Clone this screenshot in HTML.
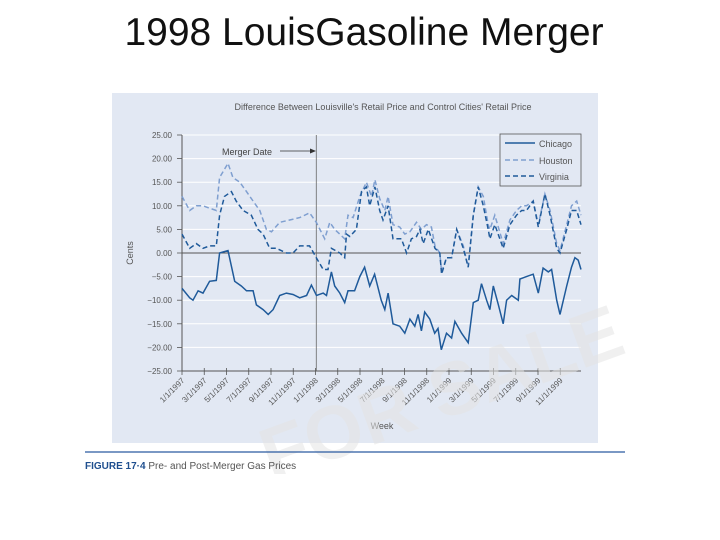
<!DOCTYPE html>
<html><head><meta charset="utf-8"><style>
body{margin:0;width:720px;height:540px;background:#fff;overflow:hidden;font-family:"Liberation Sans",sans-serif}
#title{position:absolute;left:0;width:728px;top:11px;text-align:center;font-size:39px;color:#111}
</style></head><body>
<div id="title">1998 LouisGasoline Merger</div>
<svg id="c" width="720" height="540" style="position:absolute;left:0;top:0">
<rect x="112" y="93" width="486" height="350" fill="#e2e8f3"/>
<text x="383" y="110" font-size="9" fill="#555" text-anchor="middle">Difference Between Louisville's Retail Price and Control Cities' Retail Price</text>
<g id="grid"></g><g id="lines"></g>
<text transform="translate(133,253) rotate(-90)" font-size="9" fill="#555" text-anchor="middle">Cents</text>
<text x="382" y="429" font-size="9" fill="#555" text-anchor="middle">Week</text>
<text x="222" y="155" font-size="9" fill="#444">Merger Date</text>
<line x1="280" y1="151" x2="312" y2="151" stroke="#333" stroke-width="0.8"/>
<polygon points="316,151 310,148.5 310,153.5" fill="#333"/>
<g>
<rect x="500" y="134" width="81" height="52" fill="#e2e8f3" stroke="#555" stroke-width="0.8"/>
<line x1="505" y1="143" x2="535" y2="143" stroke="#1f5a9a" stroke-width="1.6"/>
<text x="539" y="147" font-size="9" fill="#555">Chicago</text>
<line x1="505" y1="160" x2="535" y2="160" stroke="#7f9fd0" stroke-width="1.6" stroke-dasharray="5,3"/>
<text x="539" y="164" font-size="9" fill="#555">Houston</text>
<line x1="505" y1="176" x2="535" y2="176" stroke="#1f5a9a" stroke-width="1.6" stroke-dasharray="5,3"/>
<text x="539" y="180" font-size="9" fill="#555">Virginia</text>
</g>
<text transform="translate(272,482) rotate(-20)" font-size="75" font-weight="bold" fill="#e4e4e4" opacity="0.55">FOR SALE</text>
<rect x="0" y="474" width="720" height="66" fill="#fff"/>
<line x1="85" y1="452" x2="625" y2="452" stroke="#2a5aa0" stroke-width="1.2"/>
<text x="85" y="469" font-size="10" fill="#555"><tspan font-weight="bold" fill="#1f4f8f">FIGURE 17·4</tspan>  Pre- and Post-Merger Gas Prices</text>
</svg>
<script>
const yTicks=[25,20,15,10,5,0,-5,-10,-15,-20,-25];
const xLabels=["1/1/1997","3/1/1997","5/1/1997","7/1/1997","9/1/1997","11/1/1997","1/1/1998","3/1/1998","5/1/1998","7/1/1998","9/1/1998","11/1/1998","1/1/1999","3/1/1999","5/1/1999","7/1/1999","9/1/1999","11/1/1999"];
const mergerWeek=52.5;
const chicago=[[0,-7.5],[3,-9.5],[4.3,-10],[6.3,-8],[8.2,-8.5],[10.8,-6],[13.4,-5.8],[14.7,0],[18,0.5],[20.6,-6],[23.2,-7],[25.2,-8],[27.8,-8],[29.1,-11],[31.7,-12],[33.7,-13],[35.6,-12],[38.2,-9],[40.8,-8.5],[43.4,-8.8],[46,-9.5],[48.7,-9],[50.6,-6.8],[52.6,-9],[55.2,-8.5],[56.5,-9],[58.4,-4],[59.7,-7],[61.7,-8.5],[63.6,-10.5],[64.9,-8],[67.5,-8],[69.5,-5],[71.4,-3],[73.4,-7],[75.3,-4.5],[77.9,-10],[79.3,-12],[80.6,-8.5],[82.5,-15],[85.1,-15.5],[87.1,-17],[89.1,-14],[91,-15.5],[92.3,-13],[93.6,-16.5],[94.9,-12.5],[96.9,-14],[98.8,-17],[100.1,-16],[101.4,-20.5],[103.4,-17],[105.4,-18],[106.7,-14.5],[109.3,-17],[111.9,-19],[113.9,-10.5],[115.8,-10],[117.1,-6.5],[119.1,-10],[120.4,-12],[121.7,-7],[123.7,-11],[125.6,-15],[126.9,-10],[128.9,-9],[131.5,-10],[132.1,-5.5],[134.7,-5],[137.3,-4.5],[139.3,-8.5],[141.2,-3.2],[143.2,-4],[144.5,-3.5],[146.5,-10],[147.8,-13],[150.4,-7],[152.3,-3],[153.6,-1],[154.9,-1.5],[156,-3.5]];
const virginia=[[0,4],[3,1],[5.6,2],[8.2,1],[10.8,1.5],[13.4,1.5],[14.7,8],[16.6,12],[19.3,13],[21.2,11],[23.9,9],[27.1,8],[29.7,5],[31.7,4],[34.3,1],[36.9,1],[40.8,0],[43.4,0],[46,1.5],[49.9,1.5],[52.5,-1],[55.2,-3.5],[57.1,-3.5],[58.4,1],[61.7,0],[63.6,-1],[64.3,4],[65.6,3.5],[68.2,5],[70.2,13],[72.1,14],[73.4,10],[75.4,14],[77.3,9],[78.6,7],[80.6,10],[82.5,3],[85.8,3],[87.8,0],[89.7,3],[91.7,3.5],[93,5],[94.3,2],[96.3,5],[98.9,1],[100.8,0],[101.5,-4.5],[103.4,-1],[105.4,-1],[107.4,5],[110,1],[111.9,-3],[113.9,8],[115.8,14],[117.8,10],[119.7,5],[120.4,3],[122.3,6],[125.6,1],[128.2,6],[130.8,8],[132.8,9],[134.7,9],[137.3,11],[139.3,5.5],[141.9,12.5],[143.9,8],[146.5,1],[147.8,0],[150.4,5],[152.3,9],[154.3,9],[156,6]];
const houston=[[0,12],[3,9],[5.6,10],[8.2,10],[10.8,9.5],[13.4,9],[14.7,16],[18,19],[19.9,16],[22.6,15],[25.2,13],[27.8,11],[30.4,9],[33,5],[35,4.5],[38.2,6.5],[42.1,7],[46,7.5],[49.9,8.5],[52.5,6.5],[55.8,3],[57.8,6.5],[59.7,5],[63.6,3],[64.9,8],[66.9,7.5],[69.5,12],[72.1,15],[74.1,12],[75.4,15.5],[77.3,11.5],[79.3,9],[80.6,12],[82.5,6],[85.1,5.5],[87.1,4],[89.1,4.5],[91.7,6.5],[93.6,5],[95.6,6],[97.5,5.5],[98.9,1.5],[100.8,0],[101.5,-4],[103.4,-1],[105.4,-1],[107.4,5],[110,1.5],[111.9,-3],[113.9,8],[115.8,14],[117.8,12],[119.7,6],[120.4,5],[122.3,8],[125.6,2],[128.2,7],[130.8,9],[132.8,10],[134.7,10],[137.3,11],[139.3,6],[141.9,12.5],[143.9,9],[146.5,2],[147.8,0.5],[150.4,6],[152.3,10],[154.3,11],[156,8]];
const NS='http://www.w3.org/2000/svg';
const X=w=>182+w*(399/156), Y=v=>253-v*(236/50);
const grid=document.getElementById('grid'), lines=document.getElementById('lines');
function mk(tag,at,parent){const e=document.createElementNS(NS,tag);for(const k in at)e.setAttribute(k,at[k]);parent.appendChild(e);return e;}
yTicks.forEach(v=>{
  if(v!==0&&v!==-25){const g=mk('line',{x1:182,x2:581,y1:Y(v),y2:Y(v),stroke:'#fff','stroke-width':1},grid);
  
  }
  mk('line',{x1:177,x2:182,y1:Y(v),y2:Y(v),stroke:'#555','stroke-width':0.8},grid);
  const l=mk('text',{x:172,y:Y(v)+3,'font-size':8,fill:'#555','text-anchor':'end'},grid);
  l.textContent=v.toFixed(2).replace('-','−');
  
  
});
const z=mk('line',{x1:182,x2:581,y1:Y(0),y2:Y(0),stroke:'#555','stroke-width':1},grid);


mk('line',{x1:182,x2:581,y1:Y(-25),y2:Y(-25),stroke:'#555','stroke-width':1},grid);
mk('line',{x1:182,x2:182,y1:Y(25),y2:Y(-25),stroke:'#555','stroke-width':1},grid);
const m=mk('line',{x1:X(mergerWeek),x2:X(mergerWeek),y1:Y(25),y2:Y(-25),stroke:'#666','stroke-width':0.8},grid);


xLabels.forEach((s,i)=>{
  const x=182+i*22.25;
  mk('line',{x1:x,x2:x,y1:Y(-25)-3,y2:Y(-25)+4,stroke:'#555','stroke-width':0.8},grid);
  const t=mk('text',{transform:`translate(${x+3},${Y(-25)+10}) rotate(-45)`,'font-size':8,fill:'#555','text-anchor':'end'},grid);
  t.textContent=s;
  
  
});
function draw(data,color,dash,name){
  const p=mk('path',{d:data.map((d,i)=>(i?'L':'M')+X(d[0]).toFixed(1)+','+Y(d[1]).toFixed(1)).join(''),fill:'none',stroke:color,'stroke-width':1.5,'stroke-dasharray':dash},lines);
  
  
}
draw(houston,'#7f9fd0','5,3','houston-line');
draw(virginia,'#1f5a9a','5,3','virginia-line');
draw(chicago,'#1f5a9a','none','chicago-line');
</script>
</body></html>
